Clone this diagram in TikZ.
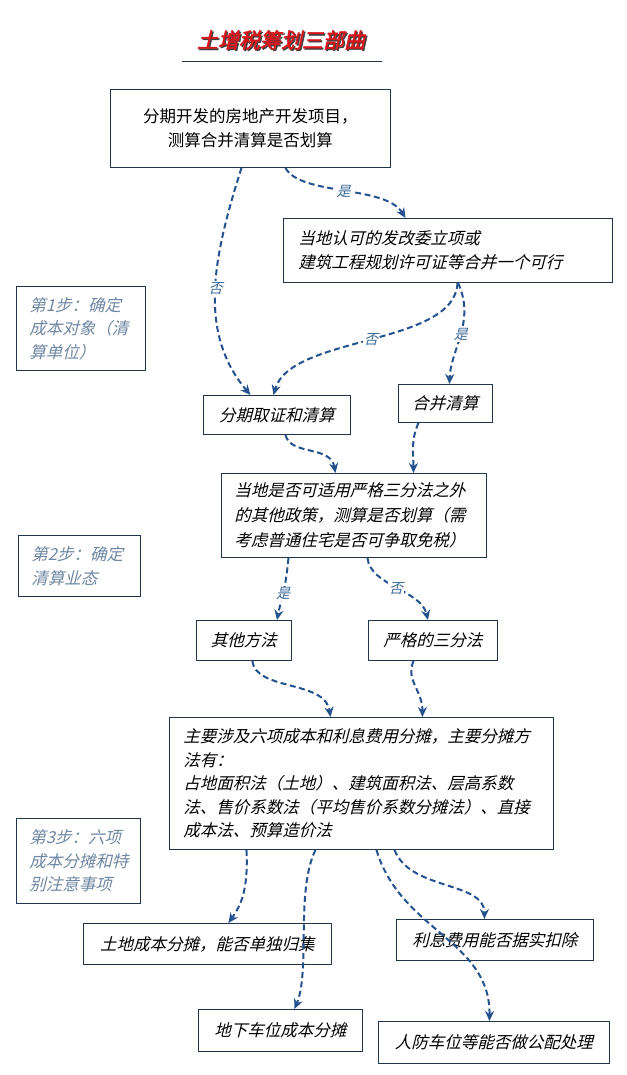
\documentclass[tikz,border=0pt]{standalone}
\usepackage{fontspec}
\setmainfont{Noto Sans CJK SC}
\newfontfamily\itcjk{Noto Sans CJK SC}[FakeSlant=0.25]
\newfontfamily\upcjk{Noto Sans CJK SC}
\newfontfamily\titlecjk{Noto Sans CJK SC}[FakeSlant=0.22,FakeBold=2]
\usetikzlibrary{arrows.meta,calc}
\definecolor{boxline}{HTML}{203550}
\definecolor{arrowblue}{HTML}{24528F}
\definecolor{labelblue}{HTML}{3B6A9A}
\definecolor{stepgray}{HTML}{6F87A3}
\definecolor{titlered}{HTML}{D8161B}
\tikzset{
  box/.style={draw=boxline, line width=0.9pt, anchor=north west, fill=white,
    font=\itcjk\fontsize{16.5}{23.5}\selectfont, inner ysep=0pt},
  onebox/.style={box, align=center, inner xsep=0pt},
  leftbox/.style={box, align=left},
  stepbox/.style={leftbox, text=stepgray},
  flow/.style={draw=arrowblue, line width=2pt, dash pattern=on 6pt off 3.5pt,
    -{Stealth[length=10pt,width=9pt]}},
  lab/.style={fill=white, text=labelblue, font=\itcjk\fontsize{14}{16}\selectfont, inner sep=1pt}
}
\begin{document}
\begin{tikzpicture}[x=1pt,y=-1pt]
\useasboundingbox (0,0) rectangle (626,1075);
% title
\node[text=black!75, font=\titlecjk\fontsize{21}{24}\selectfont] (titleshadow) at (282.3,41.3) {土增税筹划三部曲};
\node[text=titlered, font=\titlecjk\fontsize{21}{24}\selectfont] (title) at (281,40) {土增税筹划三部曲};
\coordinate (ulL) at (182,61);
\coordinate (ulR) at (382,61);
\draw[boxline, line width=0.8pt] (ulL) -- (ulR);

% boxes
\node[onebox, minimum width=280pt, minimum height=78pt, font=\upcjk\fontsize{16.5}{23.5}\selectfont] (A) at (110,89)
  {分期开发的房地产开发项目，\\测算合并清算是否划算};
\node[leftbox, minimum height=64pt, text width=299pt, inner xsep=15pt] (B) at (283,218)
  {当地认可的发改委立项或\\建筑工程规划许可证等合并一个可行};
\node[stepbox, minimum height=84pt, text width=103pt, inner xsep=13pt] (S1) at (16,286)
  {第1步：确定\\成本对象（清\\算单位）};
\node[onebox, minimum width=147pt, minimum height=39pt] (C) at (203,395) {分期取证和清算};
\node[onebox, minimum width=94pt, minimum height=38pt] (D) at (398,384) {合并清算};
\node[leftbox, minimum height=84pt, text width=239pt, inner xsep=13pt, font=\itcjk\fontsize{16.5}{25}\selectfont] (E) at (221,473)
  {当地是否可适用严格三分法之外\\的其他政策，测算是否划算（需\\考虑普通住宅是否可争取免税）};
\node[stepbox, minimum height=61pt, text width=96pt, inner xsep=13pt] (S2) at (18,535)
  {第2步：确定\\清算业态};
\node[onebox, minimum width=95pt, minimum height=40pt] (F) at (196,620) {其他方法};
\node[onebox, minimum width=129pt, minimum height=40pt] (G) at (368,620) {严格的三分法};
\node[leftbox, minimum height=132pt, text width=356pt, inner xsep=14pt] (H) at (169,717)
  {主要涉及六项成本和利息费用分摊，主要分摊方\\法有：\\占地面积法（土地）、建筑面积法、层高系数\\法、售价系数法（平均售价系数分摊法）、直接\\成本法、预算造价法};
\node[stepbox, minimum height=85pt, text width=98pt, inner xsep=13pt] (S3) at (16,818)
  {第3步：六项\\成本分摊和特\\别注意事项};
\node[onebox, minimum width=248pt, minimum height=41pt] (I) at (83,923) {土地成本分摊，能否单独归集};
\node[onebox, minimum width=197pt, minimum height=41pt] (K) at (396,919) {利息费用能否据实扣除};
\node[onebox, minimum width=164pt, minimum height=42pt] (J) at (198,1009) {地下车位成本分摊};
\node[onebox, minimum width=231pt, minimum height=42pt] (L) at (378,1021) {人防车位等能否做公配处理};

% connectors
\draw[flow] ([xshift=35pt]A.south) .. controls +(15,28) and +(-20,-33) .. ([xshift=-42.5pt]B.north)
  node[lab, pos=0.5] {是};
\draw[flow] ([xshift=-9pt]A.south) .. controls +(-26,83) and +(-55,-65) .. ([xshift=-26.5pt]C.north)
  node[lab, pos=0.5] {否};
\draw[flow] ([xshift=9.5pt]B.south) .. controls +(-2,63) and +(17,-60) .. ([xshift=-3.5pt]C.north)
  node[lab, pos=0.5] {否};
\draw[flow] ([xshift=10pt]B.south) .. controls +(18,38) and +(1,-34) .. ([xshift=4pt]D.north)
  node[lab, pos=0.5] {是};
\draw[flow] ([xshift=8.5pt]C.south) .. controls +(5,21) and +(-5,-28) .. ([xshift=-18.5pt]E.north);
\draw[flow] ([xshift=-27pt]D.south) .. controls +(-8,18) and +(0,-18) .. ([xshift=59.5pt]E.north);
\draw[flow] ([xshift=-65.5pt]E.south) .. controls +(-3,33) and +(4,-20) .. ([xshift=33pt]F.north)
  node[lab, pos=0.5] {是};
\draw[flow] ([xshift=13.5pt]E.south) .. controls +(3,28) and +(-7,-30) .. ([xshift=-5pt]G.north)
  node[lab, pos=0.5] {否};
\draw[flow] ([xshift=8.5pt]F.south) .. controls +(3,30) and +(-5,-37) .. ([xshift=-31pt]H.north);
\draw[flow] ([xshift=-19.5pt]G.south) .. controls +(-8,20) and +(0,-27) .. ([xshift=61pt]H.north);
\draw[flow] ([xshift=-115pt]H.south) .. controls +(2,41) and +(12,-17) .. ([xshift=21pt]I.north);
\draw[flow] ([xshift=-46pt]H.south) .. controls +(-20,41) and +(16,-38) .. ([xshift=14pt]J.north);
\draw[flow] ([xshift=33pt]H.south) .. controls +(16,41) and +(0,-38) .. ([xshift=-10.5pt]K.north);
\draw[flow] ([xshift=15pt]H.south) .. controls +(24,81) and +(1,-81) .. ([xshift=-4.5pt]L.north);
\end{tikzpicture}
\end{document}
